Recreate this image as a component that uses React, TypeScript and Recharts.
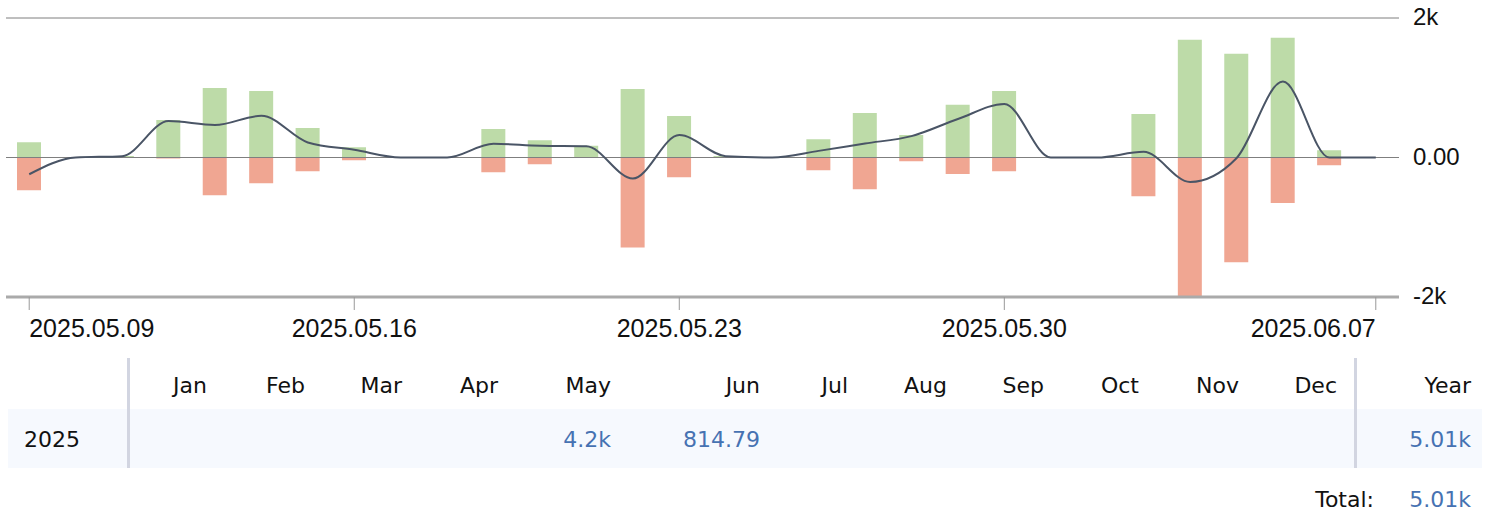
import React from "react";
import { ComposedChart, Bar, Line, XAxis, YAxis, CartesianGrid, ReferenceLine } from "recharts";

const dates = [
  "2025.05.09", "2025.05.10", "2025.05.11", "2025.05.12", "2025.05.13", "2025.05.14", "2025.05.15",
  "2025.05.16", "2025.05.17", "2025.05.18", "2025.05.19", "2025.05.20", "2025.05.21", "2025.05.22",
  "2025.05.23", "2025.05.24", "2025.05.25", "2025.05.26", "2025.05.27", "2025.05.28", "2025.05.29",
  "2025.05.30", "2025.05.31", "2025.06.01", "2025.06.02", "2025.06.03", "2025.06.04", "2025.06.05",
  "2025.06.06", "2025.06.07",
];
const gains = [220, 0, 20, 537, 997, 954, 422, 148, 0, 0, 407, 249, 170, 983, 594, 20, 0, 263, 638, 321, 755, 954, 0, 0, 623, 1688, 1486, 1717, 105, 0];
const losses = [-470, 0, 0, -15, -543, -370, -197, -39, 0, 0, -212, -96, -8, -1291, -283, 0, 0, -183, -456, -53, -235, -197, 0, 0, -557, -2040, -1502, -653, -111, 0];
const net = [-240, 0, 19, 522, 465, 599, 216, 110, 0, 0, 196, 167, 160, -302, 321, 19, 0, 95, 201, 306, 551, 767, 0, 0, 81, -351, -10, 1088, 0, 0];

const xTickLabels = ["2025.05.09", "2025.05.16", "2025.05.23", "2025.05.30", "2025.06.07"];
const yTicks = [-2000, 0, 2000];
const yTickLabels = ["-2k", "0.00", "2k"];

const months = ["Jan", "Feb", "Mar", "Apr", "May", "Jun", "Jul", "Aug", "Sep", "Oct", "Nov", "Dec"];
const yearLabel = "2025";
const monthValues = ["", "", "", "", "4.2k", "814.79", "", "", "", "", "", ""];
const yearTotal = "5.01k";
const grandTotal = "5.01k";

const data = dates.map((d, i) => ({ date: d, gain: gains[i], loss: losses[i], net: net[i] }));

// layout: right edges of month columns in the summary table
const monthRight = [207, 305, 402, 498, 611, 760, 848, 947, 1044, 1139, 1239, 1337];

const AXIS_FONT = "'Liberation Sans', Arial, Helvetica, sans-serif";
const TABLE_FONT = "'DejaVu Sans', Verdana, sans-serif";

const XTick = (props: any) => {
  const { x, y, payload } = props;
  const v = payload.value;
  let anchor: "start" | "middle" | "end" = "middle";
  if (v === dates[0]) anchor = "start";
  if (v === dates[dates.length - 1]) anchor = "end";
  return (
    <text x={x} y={y + 27} textAnchor={anchor} fontFamily={AXIS_FONT} fontSize={25} fill="#111">
      {v}
    </text>
  );
};

const YTick = (props: any) => {
  const { x, y, payload } = props;
  const idx = yTicks.indexOf(payload.value);
  return (
    <text x={x + 14} y={y + 7} textAnchor="start" fontFamily={AXIS_FONT} fontSize={24} fill="#111">
      {idx >= 0 ? yTickLabels[idx] : payload.value}
    </text>
  );
};

export default function App() {
  return (
    <div style={{ position: "absolute", left: 0, top: 0, width: 1490, height: 515, background: "#fff" }}>
      <ComposedChart
        width={1490}
        height={350}
        data={data}
        stackOffset="sign"
        margin={{ top: 18, right: 0, bottom: 0, left: 6 }}
        barCategoryGap={0}
      >
        <CartesianGrid horizontal={true} vertical={false} stroke="#7f7f7f" strokeWidth={1} />
        <XAxis
          dataKey="date"
          type="category"
          ticks={xTickLabels}
          interval={0}
          height={53}
          axisLine={{ stroke: "#aaaaaa", strokeWidth: 3 }}
          tickLine={{ stroke: "#999999" }}
          tickSize={13}
          tickMargin={0}
          tick={<XTick />}
        />
        <YAxis
          orientation="right"
          width={91}
          domain={[-2000, 2000]}
          ticks={yTicks}
          allowDataOverflow={true}
          axisLine={false}
          tickLine={false}
          tickSize={0}
          tickMargin={0}
          tick={<YTick />}
        />
        <Bar dataKey="gain" stackId="s" fill="#bddba8" barSize={24} isAnimationActive={false} />
        <Bar dataKey="loss" stackId="s" fill="#f0a692" barSize={24} isAnimationActive={false} />
        <ReferenceLine y={0} stroke="#7f7f7f" strokeWidth={1} />
        <Line
          dataKey="net"
          type="monotone"
          stroke="#4a5566"
          strokeWidth={2}
          dot={false}
          activeDot={false}
          isAnimationActive={false}
        />
      </ComposedChart>
      <svg width={1490} height={165} style={{ position: "absolute", left: 0, top: 350 }}>
        <rect x={8} y={59} width={1474} height={59} fill="#f6f9fe" />
        <rect x={127} y={8} width={3} height={110} fill="#d2d5e1" />
        <rect x={1354} y={8} width={3} height={110} fill="#d2d5e1" />
        <g fontFamily={TABLE_FONT} fontSize={22}>
          {months.map((m, i) => (
            <text key={m} x={monthRight[i]} y={43} textAnchor="end" fill="#111">
              {m}
            </text>
          ))}
          <text x={1471} y={43} textAnchor="end" fill="#111">Year</text>
          <text x={24} y={97} textAnchor="start" fill="#111">{yearLabel}</text>
          {monthValues.map((v, i) =>
            v ? (
              <text key={"v" + i} x={monthRight[i]} y={97} textAnchor="end" fill="#4672b2">
                {v}
              </text>
            ) : null
          )}
          <text x={1471} y={97} textAnchor="end" fill="#4672b2">{yearTotal}</text>
          <text x={1374} y={157} textAnchor="end" fill="#111">Total:</text>
          <text x={1471} y={157} textAnchor="end" fill="#4672b2">{grandTotal}</text>
        </g>
      </svg>
    </div>
  );
}
